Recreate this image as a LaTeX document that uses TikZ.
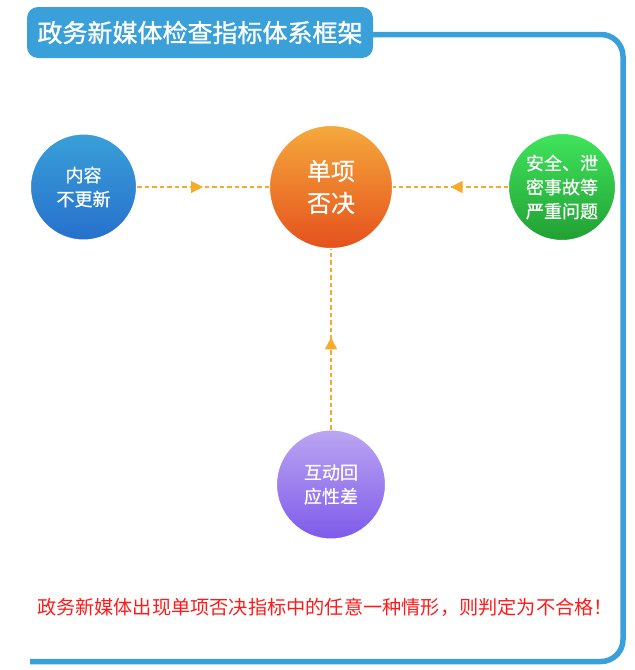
\documentclass[tikz,border=0pt]{standalone}
\usepackage{fontspec}
\setmainfont{Noto Sans CJK SC}
\newfontfamily\medfont{Noto Sans CJK SC}[FakeBold=1.2]
\newfontfamily\semifont{Noto Sans CJK SC}[FakeBold=0.6]
\usetikzlibrary{arrows.meta,decorations.markings}
\definecolor{frameblue}{HTML}{3AA0DA}
\definecolor{dashorange}{HTML}{F7AA2C}
\definecolor{blueT}{HTML}{3A9FD8}
\definecolor{blueB}{HTML}{2670CC}
\definecolor{orangeT}{HTML}{F5AA3C}
\definecolor{orangeB}{HTML}{E5501C}
\definecolor{greenT}{HTML}{40E45C}
\definecolor{greenB}{HTML}{21A033}
\definecolor{purpleT}{HTML}{BBA6F2}
\definecolor{purpleB}{HTML}{7E5AEA}
\definecolor{warnred}{HTML}{FF1A1A}
\begin{document}
\begin{tikzpicture}[x=1pt,y=-1pt,
  ball/.style={circle, inner sep=0pt, draw=white, line width=1pt, text=white, align=center},
  ctext/.style={font=\semifont\fontsize{18}{24}\selectfont},
  flow/.style={dashorange, line width=1.1pt, dash pattern=on 4.5pt off 3pt,
    decoration={markings, mark=at position #1 with {\arrow{Triangle[length=12pt,width=12pt]}}},
    postaction={decorate}},
  frameline/.style={frameblue, line width=5.5pt, rounded corners=22pt}]
\useasboundingbox (0,0) rectangle (635,670);
% frame
\coordinate (fr1) at (360,34.5);
\coordinate (fr2) at (623,34.5);
\coordinate (fr3) at (623,661.5);
\coordinate (fr4) at (30,661.5);
\draw[frameline] (fr1) -- (fr2) -- (fr3) -- (fr4);
% title
\node[fill=frameblue, rounded corners=11pt, minimum width=346pt, minimum height=51pt, inner sep=0pt,
      text=white, font=\medfont\fontsize{25}{28}\selectfont] (title) at (200,32.5) {政务新媒体检查指标体系框架};
% circles
\node[ball, ctext, minimum size=106pt, top color=blueT, bottom color=blueB] (c1) at (83.5,187) {内容\\不更新};
\node[ball, minimum size=123pt, top color=orangeT, bottom color=orangeB,
      font=\semifont\fontsize{24}{32}\selectfont] (c0) at (331,187) {单项\\否决};
\node[ball, ctext, minimum size=107pt, top color=greenT, bottom color=greenB] (c2) at (562,187) {安全、泄\\密事故等\\严重问题};
\node[ball, ctext, minimum size=109pt, top color=purpleT, bottom color=purpleB] (c3) at (331,484.5) {互动回\\应性差};
% connectors
\draw[flow=0.5] (c1) -- (c0);
\draw[flow=0.5] (c2) -- (c0);
\draw[flow=0.51] (c3) -- (c0);
% note
\node[text=warnred, font=\fontsize{19.2}{22}\selectfont, inner sep=0pt] (note) at (325,607)
  {政务新媒体出现单项否决指标中的任意一种情形，则判定为不合格！};
\end{tikzpicture}
\end{document}
